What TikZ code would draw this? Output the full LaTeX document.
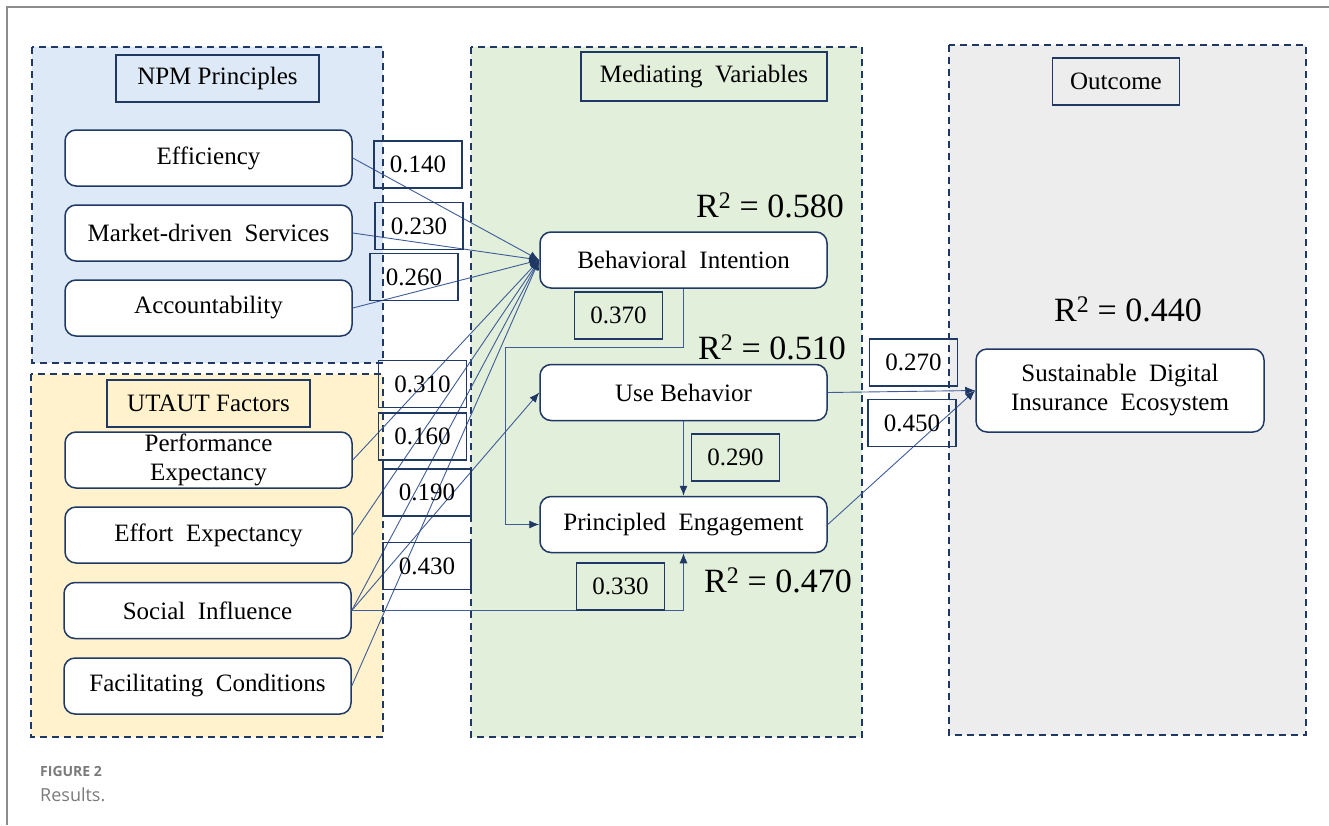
\documentclass[tikz,border=0pt]{standalone}
\usepackage{fontspec}
\setmainfont{Liberation Serif}
\newfontfamily\capfont{Open Sans}
\usetikzlibrary{arrows.meta}
\definecolor{navy}{HTML}{203864}
\definecolor{linkblue}{HTML}{3F5C99}
\definecolor{npmfill}{HTML}{DDE9F6}
\definecolor{utautfill}{HTML}{FFF2CC}
\definecolor{medfill}{HTML}{E2EFDA}
\definecolor{outfill}{HTML}{EDEDED}
\definecolor{framegray}{HTML}{8C8C8C}
\definecolor{capgray}{HTML}{7A7A7A}

\begin{document}
\begin{tikzpicture}[x=1pt,y=-1pt,
    panel/.style={draw=navy,line width=1.5pt,dash pattern=on 7pt off 5pt},
    head/.style={draw=navy,line width=1.5pt,minimum height=47pt,inner sep=0pt,font=\fontsize{25}{28}\selectfont},
    factor/.style={draw=navy,line width=1.5pt,fill=white,rounded corners=11pt,minimum width=287pt,minimum height=56pt,inner sep=0pt,align=center,font=\fontsize{25}{29}\selectfont},
    coef/.style={draw=navy,line width=1.5pt,minimum width=88pt,minimum height=47pt,inner sep=0pt,font=\fontsize{25}{28}\selectfont},
    rsq/.style={font=\fontsize{34}{38}\selectfont},
    link/.style={draw=linkblue,line width=0.9pt,-{Latex[length=10pt,width=8pt,color=navy]}}]
    \useasboundingbox (0,0) rectangle (1329,825);
    \draw [framegray, line width=1.5pt] (1329,7) -- (7,7) -- (7,825);

    % groups
    \draw [panel, fill=npmfill] (32,47) rectangle (383,363);
    \draw [panel, fill=utautfill] (31,374) rectangle (383,737);
    \draw [panel, fill=medfill] (471,47) rectangle (862,737);
    \draw [panel, fill=outfill] (949,45) rectangle (1306,735);
    \node [head, minimum width=203pt] (npmhead) at (217.5,78.5) {NPM Principles};
    \node [head, minimum width=203pt] (utauthead) at (208.5,403.5) {UTAUT Factors};
    \node [head, minimum width=246pt, minimum height=49pt] (medhead) at (704,76.5) {Mediating\ \ Variables};
    \node [head, minimum width=127pt] (outhead) at (1116,81.5) {Outcome};

    % constructs
    \node [factor] (eff) at (208.5,158) {Efficiency};
    \node [factor] (mds) at (208.5,233) {Market-driven\ \ Services};
    \node [factor] (acc) at (208.5,308) {Accountability};
    \node [factor] (pex) at (208.5,460) {Performance\\Expectancy};
    \node [factor] (eex) at (208.5,535) {Effort\ \ Expectancy};
    \node [factor] (sin) at (207.5,610.5) {Social\ \ Influence};
    \node [factor] (fco) at (207.5,686) {Facilitating\ \ Conditions};
    \node [factor] (bi) at (683.5,260) {Behavioral\ \ Intention};
    \node [factor] (ub) at (683.5,392.5) {Use Behavior};
    \node [factor] (pe) at (683.5,524.5) {Principled\ \ Engagement};
    \node [factor, minimum width=288pt, minimum height=83pt] (sdie) at (1120,390.5) {Sustainable\ \ Digital\\Insurance\ \ Ecosystem};

    % paths
    \draw [link] (eff.east) -- (bi.west);
    \draw [link] (mds.east) -- (bi.west);
    \draw [link] (acc.east) -- (bi.west);
    \draw [link] (pex.east) -- (bi.west);
    \draw [link] (eex.east) -- (bi.west);
    \draw [link] (sin.east) -- (bi.west);
    \draw [link] (fco.east) -- (bi.west);
    \draw [link] (sin.east) -- (ub.west);
    \draw [link] (sin.east) -| (pe.south);
    \coordinate (bend) at (505,347);
    \draw [link] (bi.south) |- (bend) |- (pe.west);
    \draw [link] (ub.south) -- (pe.north);
    \draw [link] (ub.east) -- (sdie.west);
    \draw [link] (pe.east) -- (sdie.west);

    % coefficients
    \node [coef] (c140) at (418,164.5) {0.140};
    \node [coef] (c230) at (419,226) {0.230};
    \node [coef] (c260) at (414,277) {0.260};
    \node [coef] (c310) at (422.5,384) {0.310};
    \node [coef] (c160) at (422.5,436.5) {0.160};
    \node [coef] (c190) at (427,492.5) {0.190};
    \node [coef] (c430) at (427,566) {0.430};
    \node [coef] (c370) at (618.5,315.5) {0.370};
    \node [coef] (c290) at (735.5,457.5) {0.290};
    \node [coef] (c330) at (620.5,586.5) {0.330};
    \node [coef] (c270) at (913.5,362.5) {0.270};
    \node [coef] (c450) at (912,423) {0.450};

    \node [rsq] (rbi) at (770,205) {R\textsuperscript{2} = 0.580};
    \node [rsq] (rub) at (772,347) {R\textsuperscript{2} = 0.510};
    \node [rsq] (rpe) at (778,580) {R\textsuperscript{2} = 0.470};
    \node [rsq] (rsdie) at (1128,309) {R\textsuperscript{2} = 0.440};

    \node [anchor=west, inner sep=0pt, text=capgray, font=\capfont\bfseries\fontsize{14}{16}\selectfont] (figlabel) at (40,771) {FIGURE 2};
    \node [anchor=west, inner sep=0pt, text=capgray, font=\capfont\fontsize{18}{20}\selectfont] (figtext) at (40,795) {Results.};
\end{tikzpicture}
\end{document}
